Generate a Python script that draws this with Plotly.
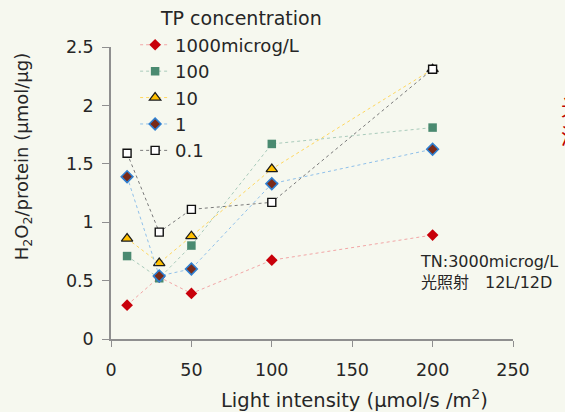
import plotly.graph_objects as go

# ---- data ----
light = [10, 30, 50, 100, 200]
series_names = ["1000microg/L", "100", "10", "1", "0.1"]
tp_1000 = [0.29, 0.53, 0.39, 0.675, 0.89]
tp_100 = [0.71, 0.52, 0.80, 1.67, 1.81]
tp_10 = [0.86, 0.65, 0.88, 1.455, 2.31]
tp_1 = [1.39, 0.54, 0.60, 1.33, 1.625]
tp_01 = [1.59, 0.915, 1.11, 1.17, 2.31]
x_ticks = [0, 50, 100, 150, 200, 250]
y_ticks = [0, 0.5, 1, 1.5, 2, 2.5]

FONT = "DejaVu Sans"
TXT = "#262626"
AX = "#8f8f8f"

styles = [
    dict(line=dict(color="#f2a6a6", width=1, dash="dot"),
         marker=dict(symbol="diamond", size=9, color="#c8000a", line=dict(width=0))),
    dict(line=dict(color="#a9cbbb", width=1, dash="dot"),
         marker=dict(symbol="square", size=8.5, color="#4a8a70", line=dict(width=0))),
    dict(line=dict(color="#ffd75e", width=1, dash="dot"),
         marker=dict(symbol="triangle-up", size=10, color="#ffc000", line=dict(width=1.2, color="#1a1a1a"))),
    dict(line=dict(color="#8fc0ea", width=1, dash="dot"),
         marker=dict(symbol="diamond", size=9, color="#7a2a18", line=dict(width=1.6, color="#2f7fd0"))),
    dict(line=dict(color="#7a7a7a", width=1, dash="dot"),
         marker=dict(symbol="square", size=8, color="#ffffff", line=dict(width=1.4, color="#111111"))),
]

fig = go.Figure()
for name, ys, st in zip(series_names, [tp_1000, tp_100, tp_10, tp_1, tp_01], styles):
    fig.add_trace(go.Scatter(x=light, y=ys, name=name, mode="lines+markers",
                             line=st["line"], marker=st["marker"], cliponaxis=False))

fig.update_layout(
    width=565, height=412,
    margin=dict(l=111, r=52, t=47, b=73),
    paper_bgcolor="#f6f8ef", plot_bgcolor="rgba(0,0,0,0)",
    font=dict(family=FONT, color=TXT, size=17),
    showlegend=True,
    legend=dict(x=0.06, y=1.07, xanchor="left", yanchor="top",
                bgcolor="rgba(0,0,0,0)", font=dict(size=18, family=FONT, color=TXT),
                itemwidth=30),
    xaxis=dict(range=[0, 250], tickvals=x_ticks, ticktext=[str(v) for v in x_ticks],
               showgrid=False, zeroline=False, showline=True, linecolor=AX, linewidth=1.5,
               ticks="outside", ticklen=6, tickcolor=AX, tickwidth=1.2,
               ticklabelstandoff=8,
               tickfont=dict(size=17.5, family=FONT, color=TXT)),
    yaxis=dict(range=[0, 2.5], tickvals=y_ticks, ticktext=["0", "0.5", "1", "1.5", "2", "2.5"],
               showgrid=False, zeroline=False, showline=True, linecolor=AX, linewidth=1.5,
               ticks="outside", ticklen=7, tickcolor=AX, tickwidth=1.2,
               ticklabelstandoff=5,
               tickfont=dict(size=17.5, family=FONT, color=TXT)),
)

ann = [
    dict(text="TP concentration", x=0.117, y=1.098, xanchor="left", yanchor="middle",
         font=dict(size=19)),
    dict(text="Light intensity (μmol/s /m<sup>2</sup>)", x=0.605, y=-0.205,
         xanchor="center", yanchor="middle", font=dict(size=19.5)),
    dict(text="H<sub>2</sub>O<sub>2</sub>/protein (μmol/μg)", x=-0.218, y=0.627,
         xanchor="center", yanchor="middle", textangle=-90, font=dict(size=18)),
    dict(text="TN:3000microg/L<br>光照射　12L/12D", x=0.764, y=0.229, xanchor="left",
         yanchor="middle", align="left",
         font=dict(size=16, family=FONT + ", Noto Sans CJK SC")),
    dict(text="光", x=1.114, y=0.801, xanchor="left", yanchor="middle",
         font=dict(size=22, color="#c00000", family="Noto Sans CJK SC")),
    dict(text="浓", x=1.114, y=0.702, xanchor="left", yanchor="middle",
         font=dict(size=22, color="#c00000", family="Noto Sans CJK SC")),
]
for a in ann:
    fig.add_annotation(xref="paper", yref="paper", showarrow=False, **a)

fig.write_html("out.html")
